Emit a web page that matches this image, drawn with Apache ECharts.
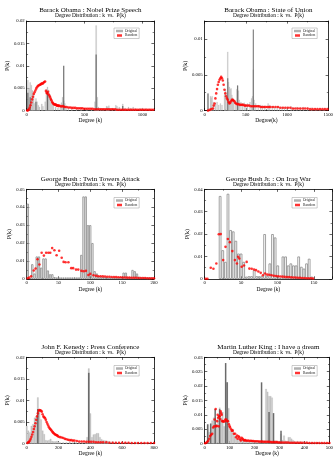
<!DOCTYPE html>
<html><head><meta charset="utf-8">
<script src="https://cdn.jsdelivr.net/npm/echarts@6/dist/echarts.min.js"></script>
<style>html,body{margin:0;padding:0;background:#fff}#c{width:336px;height:458px}</style>
</head><body><div id="c"></div>
<script>
// ---------- DATA ----------
const titles = ['Barack Obama : Nobel Prize Speech','Barack Obama : State of Union','George Bush : Twin Towers Attack','George Bush Jr. : On Iraq War','John F. Kenedy : Press Conference','Martin Luther King : I have a dream'];
const subtitle = 'Degree Distribution : k  vs.  P(k)';
const xNames = ['Degree (k)','Degree(k)','Degree (k)','Degree (k)','Degree (k)','Degree (k)'];
const yName = 'P(k)';
const legendNames = ['Original','Random'];
const xMaxs = [1100,1500,200,175,800,500];
const xIntervals = [500,500,50,50,200,100];
const yMaxs = [0.02,0.0125,0.05,0.04,0.02,0.03];
const yIntervals = [0.005,0.005,0.01,0.01,0.005,0.005];

const nobelOriginal = [[10,0.0068],[20,0.0050],[30,0.0063],[40,0.0057],[50,0.0045],[60,0.0038],[70,0.0016],[80,0.0027],[90,0.0020],[100,0.0012],[110,0.0008],[130,0.0015],[140,0.0010],[160,0.0020],[170,0.0048],[180,0.0053],[190,0.0046],[200,0.0036],[210,0.0028],[220,0.0020],[230,0.0012],[250,0.0008],[270,0.0006],[290,0.0010],[300,0.0018],[310,0.0030],[320,0.0022],[330,0.0016],[340,0.0010],[360,0.0006],[390,0.0004],[430,0.0004],[470,0.0003],[520,0.0004],[560,0.0004],[590,0.0020],[600,0.0190],[610,0.0030],[620,0.0008],[640,0.0006],[660,0.0005],[690,0.0010],[700,0.0009],[710,0.0011],[740,0.0006],[770,0.0012],[780,0.0010],[800,0.0008],[830,0.0015],[850,0.0006],[880,0.0008],[900,0.0006],[920,0.0008],[940,0.0005],[980,0.0005],[1000,0.0006],[1030,0.0005],[1060,0.0004],[1090,0.0003]];
const nobelDark = [[10,0.0040],[30,0.0030],[80,0.0020],[180,0.0042],[320,0.0100],[600,0.0125],[830,0.0010]];
const nobelRandom = [[5,0.0000],[12,0.0001],[19,0.0003],[26,0.0007],[33,0.0012],[40,0.0018],[47,0.0025],[54,0.0031],[61,0.0037],[68,0.0041],[75,0.0045],[82,0.0049],[89,0.0052],[96,0.0055],[103,0.0056],[110,0.0057],[117,0.0058],[124,0.0059],[131,0.0061],[138,0.0060],[145,0.0062],[152,0.0064],[159,0.0065],[166,0.0044],[172,0.0040],[178,0.0038],[184,0.0042],[190,0.0036],[196,0.0033],[202,0.0030],[208,0.0026],[214,0.0023],[220,0.0019],[226,0.0017],[232,0.0015],[238,0.0014],[244,0.0013],[250,0.0014],[256,0.0012],[262,0.0011],[268,0.0012],[274,0.0010],[280,0.0011],[290,0.0010],[300,0.0009],[310,0.0010],[320,0.0009],[330,0.0008],[345,0.0008],[360,0.0007],[375,0.0007],[390,0.0006],[405,0.0006],[420,0.0006],[435,0.0005],[450,0.0005],[465,0.0005],[480,0.0005],[495,0.0004],[510,0.0004],[525,0.0004],[540,0.0004],[555,0.0004],[570,0.0004],[585,0.0003],[600,0.0003],[615,0.0003],[630,0.0003],[645,0.0003],[660,0.0003],[675,0.0003],[690,0.0003],[705,0.0003],[720,0.0003],[735,0.0003],[750,0.0003],[765,0.0003],[780,0.0002],[795,0.0002],[810,0.0002],[825,0.0002],[840,0.0002],[855,0.0002],[870,0.0002],[885,0.0002],[900,0.0002],[915,0.0002],[930,0.0002],[945,0.0002],[960,0.0002],[975,0.0002],[990,0.0002],[1005,0.0002],[1020,0.0002],[1035,0.0002],[1050,0.0002],[1065,0.0002],[1080,0.0002],[1095,0.0002]];

const unionOriginal = [[40,0.0024],[70,0.0020],[80,0.0018],[90,0.0020],[110,0.0012],[130,0.0010],[150,0.0012],[170,0.0008],[190,0.0010],[210,0.0008],[240,0.0022],[250,0.0030],[260,0.0025],[280,0.0082],[290,0.0040],[300,0.0033],[310,0.0030],[320,0.0031],[330,0.0022],[340,0.0018],[350,0.0016],[370,0.0014],[390,0.0030],[400,0.0035],[410,0.0028],[420,0.0015],[440,0.0012],[460,0.0010],[480,0.0011],[500,0.0009],[520,0.0010],[550,0.0012],[570,0.0017],[580,0.0020],[590,0.0057],[600,0.0015],[620,0.0010],[650,0.0008],[680,0.0008],[700,0.0007],[730,0.0007],[770,0.0010],[790,0.0008],[820,0.0006],[850,0.0005],[880,0.0006],[910,0.0005],[940,0.0005],[970,0.0004],[1000,0.0005],[1050,0.0006],[1080,0.0004],[1120,0.0005],[1160,0.0004],[1200,0.0005],[1250,0.0004],[1300,0.0004],[1350,0.0003],[1400,0.0003],[1450,0.0003]];
const unionDark = [[40,0.0024],[280,0.0045],[400,0.0035],[590,0.0113]];
const unionRandom = [[40,0.0000],[60,0.0001],[80,0.0002],[100,0.0003],[110,0.0007],[120,0.0010],[130,0.0017],[140,0.0024],[150,0.0030],[160,0.0036],[170,0.0040],[180,0.0043],[190,0.0045],[200,0.0047],[210,0.0045],[220,0.0042],[230,0.0036],[240,0.0029],[250,0.0024],[260,0.0020],[270,0.0017],[280,0.0015],[290,0.0012],[300,0.0010],[310,0.0011],[320,0.0013],[330,0.0015],[340,0.0015],[350,0.0014],[360,0.0013],[370,0.0011],[380,0.0010],[395,0.0009],[410,0.0009],[425,0.0008],[440,0.0008],[455,0.0008],[470,0.0008],[485,0.0007],[500,0.0007],[520,0.0007],[540,0.0007],[560,0.0006],[580,0.0006],[600,0.0006],[620,0.0006],[640,0.0006],[660,0.0006],[680,0.0005],[700,0.0005],[720,0.0005],[740,0.0005],[760,0.0005],[780,0.0005],[800,0.0005],[830,0.0005],[860,0.0005],[890,0.0005],[920,0.0004],[950,0.0004],[980,0.0004],[1010,0.0004],[1040,0.0004],[1070,0.0003],[1100,0.0003],[1130,0.0003],[1160,0.0003],[1190,0.0003],[1220,0.0003],[1250,0.0003],[1280,0.0002],[1310,0.0002],[1340,0.0002],[1370,0.0002],[1400,0.0002],[1430,0.0002],[1460,0.0002],[1490,0.0002]];

const twinOriginal = [[1.75,0.042],[5.25,0.0005],[8.75,0.0082],[12.25,0.003],[15.75,0.0125],[19.25,0.0125],[22.75,0.0063],[26.25,0.0114],[29.75,0.0114],[33.25,0.0047],[36.75,0.0026],[40.25,0.0026],[43.75,0.001],[47.25,0.0008],[50.75,0.0008],[54.25,0.0008],[57.75,0.0008],[61.25,0.0008],[64.75,0.0008],[68.25,0.0008],[71.75,0.0008],[75.25,0.0008],[78.75,0.0008],[82.25,0.0008],[85.75,0.0134],[89.25,0.046],[92.75,0.046],[96.25,0.030],[99.75,0.030],[103.25,0.020],[106.75,0.0043],[110.25,0.003],[113.75,0.0015],[117.25,0.0012],[120.75,0.001],[124.25,0.001],[127.75,0.0008],[131.25,0.0008],[134.75,0.0008],[138.25,0.0008],[141.75,0.0008],[145.25,0.0008],[148.75,0.001],[152.25,0.0035],[155.75,0.0035],[159.25,0.001],[162.75,0.001],[166.25,0.005],[169.75,0.0043],[173.25,0.003],[176.75,0.0012],[180.25,0.0008],[183.75,0.0008],[187.25,0.0008],[190.75,0.0008],[194.25,0.0008],[197.75,0.0008]];
const twinRandom = [[1.6,0.0004],[4,0.0007],[7,0.0015],[11,0.0047],[14,0.0058],[17,0.011],[20,0.008],[23.5,0.0146],[27,0.013],[30.5,0.0146],[34,0.0146],[37,0.0146],[40,0.0172],[43.5,0.016],[47,0.0132],[51,0.0157],[55,0.0118],[58,0.0095],[61,0.0093],[65.5,0.0093],[70,0.006],[73,0.006],[77.5,0.0052],[81,0.0052],[86,0.0045],[89.5,0.0043],[93,0.0045],[97,0.0022],[100,0.0028],[105,0.002],[109,0.0017],[112.5,0.0015],[116,0.0015],[119.5,0.0014],[123,0.0013],[126.5,0.0012],[130,0.0012],[133.5,0.0011],[137,0.0010],[140.5,0.0010],[144,0.0009],[147.5,0.0009],[151,0.0008],[154.5,0.0008],[158,0.0007],[161.5,0.0007],[165,0.0006],[168.5,0.0006],[172,0.0006],[175.5,0.0005],[179,0.0005],[182.5,0.0005],[186,0.0005],[189.5,0.0004],[193,0.0004],[196.5,0.0004],[200,0.0004]];

const iraqOriginal = [[21.2,0.037],[24.8,0.0128],[28.4,0.0076],[32,0.038],[35.6,0.0218],[39.2,0.0212],[42.8,0.017],[46.4,0.0113],[50,0.0113],[53.6,0.0076],[57.2,0.001],[60.8,0.0012],[64.4,0.0012],[68,0.0039],[71.6,0.0012],[75.2,0.0012],[78.8,0.0012],[82.4,0.020],[86,0.0012],[89.6,0.0069],[93.2,0.020],[96.8,0.0185],[100.4,0.006],[104,0.0003],[107.6,0.010],[111.2,0.010],[114.8,0.006],[118.4,0.0069],[122,0.006],[125.6,0.006],[129.2,0.010],[132.8,0.0054],[136.4,0.0046],[140,0.0069],[143.6,0.009],[147.2,0.001]];
const iraqRandom = [[1.4,0.0001],[3.7,0.0001],[8.3,0.005],[12,0.0045],[16,0.0069],[19.4,0.0199],[22,0.02],[25.4,0.0084],[28.6,0.0143],[31.8,0.0178],[34.6,0.0164],[38,0.0124],[41.5,0.0084],[44.3,0.0069],[46,0.0099],[47.5,0.0091],[50.8,0.0054],[54,0.006],[57.7,0.0076],[61.4,0.0046],[64.6,0.0045],[67.8,0.0042],[70.6,0.0039],[73.8,0.0033],[77,0.0027],[80,0.0016],[83,0.0024],[86,0.0019],[89,0.0018],[92,0.0016],[95,0.0014],[98,0.0013],[101,0.0012],[104,0.0011],[107,0.0010],[110,0.0009],[113,0.0008],[116,0.0008],[119,0.0007],[122,0.0006],[125,0.0006],[128,0.0005],[131,0.0005],[134,0.0004],[137,0.0004],[140,0.0003],[143,0.0003],[146,0.0003],[149,0.0002]];

const kennedyOriginal = [[0,0.0041],[10,0.0030],[20,0.0026],[30,0.0041],[40,0.0045],[50,0.0060],[60,0.0063],[70,0.0107],[80,0.0075],[90,0.0056],[100,0.0030],[110,0.0022],[120,0.0008],[130,0.0007],[140,0.0008],[150,0.0011],[160,0.0006],[170,0.0005],[180,0.0005],[190,0.0006],[200,0.0004],[210,0.0003],[230,0.0003],[250,0.0003],[270,0.0004],[290,0.0003],[310,0.0003],[330,0.0004],[350,0.0003],[370,0.0004],[380,0.0015],[390,0.0174],[400,0.0070],[410,0.0015],[420,0.0021],[430,0.0022],[440,0.0024],[450,0.0024],[460,0.0015],[470,0.0010],[480,0.0008],[490,0.0007],[500,0.0007],[510,0.0006],[520,0.0005],[540,0.0005],[560,0.0004],[580,0.0003],[600,0.0003],[620,0.0004],[640,0.0003],[660,0.0003],[690,0.0003],[720,0.0002],[750,0.0002],[780,0.0002]];
const kennedyDark = [[70,0.0080],[390,0.0164]];
const kennedyRandom = [[5,0.00015],[10,0.0003],[15,0.0004],[20,0.0007],[25,0.0011],[30,0.0016],[35,0.0021],[40,0.0027],[45,0.0034],[50,0.0040],[55,0.0047],[60,0.0055],[65,0.0063],[70,0.0070],[75,0.0076],[80,0.0078],[85,0.0077],[90,0.0076],[95,0.0074],[100,0.0068],[105,0.0063],[110,0.0061],[115,0.0059],[120,0.0055],[125,0.0050],[130,0.0046],[135,0.0042],[140,0.0038],[145,0.0035],[150,0.0033],[155,0.0031],[160,0.0028],[165,0.0026],[170,0.0024],[175,0.0022],[180,0.0021],[185,0.0020],[190,0.0019],[195,0.0018],[200,0.0016],[210,0.0015],[220,0.0014],[230,0.0013],[240,0.0011],[250,0.0010],[260,0.0009],[270,0.0008],[280,0.0008],[290,0.0007],[300,0.0007],[315,0.0006],[330,0.0005],[345,0.0005],[360,0.0005],[375,0.0004],[390,0.0004],[405,0.0004],[420,0.0004],[435,0.0003],[450,0.0003],[465,0.0003],[480,0.0003],[500,0.0003],[520,0.0002],[540,0.0002],[560,0.0002],[580,0.0002],[600,0.0002],[620,0.0002],[640,0.0002],[660,0.00015],[680,0.00015],[700,0.00015],[720,0.00015],[740,0.00015],[760,0.00015],[780,0.00015],[800,0.00015]];

const dreamOriginal = [[12,0.0067],[18,0.0040],[24,0.0067],[30,0.0080],[36,0.0090],[42,0.0090],[48,0.0067],[54,0.0093],[60,0.0125],[66,0.0090],[72,0.0110],[78,0.0060],[84,0.0060],[90,0.0213],[96,0.0123],[102,0.0045],[108,0.0045],[114,0.0050],[120,0.0028],[126,0.0028],[132,0.0017],[138,0.0017],[144,0.0017],[150,0.0017],[156,0.0012],[162,0.0009],[168,0.0009],[174,0.0009],[180,0.0009],[186,0.0009],[192,0.0009],[198,0.0009],[204,0.0009],[210,0.0009],[216,0.0009],[222,0.0009],[228,0.0010],[234,0.0010],[240,0.0010],[246,0.0190],[252,0.0180],[258,0.0165],[264,0.0165],[270,0.0160],[276,0.0010],[282,0.0010],[288,0.0010],[294,0.0009],[300,0.0009],[306,0.0034],[312,0.0012],[318,0.0028],[324,0.0010],[330,0.0009],[336,0.0022],[342,0.0022],[348,0.0017],[354,0.0012],[360,0.0009],[372,0.0009],[384,0.0008],[396,0.0007],[408,0.0007],[420,0.0006],[432,0.0006],[444,0.0005],[456,0.0005],[468,0.0005],[480,0.0005],[492,0.0004]];
const dreamDark = [[12,0.0067],[24,0.0070],[42,0.0120],[60,0.0120],[84,0.0280],[90,0.0213],[228,0.0213],[258,0.0110],[276,0.0106],[306,0.0045]];
const dreamRandom = [[2,0.0001],[6,0.0003],[10,0.0006],[14,0.0010],[18,0.0017],[22,0.0026],[26,0.0031],[30,0.0034],[34,0.0056],[38,0.0060],[40,0.0084],[44,0.0120],[46,0.0060],[48,0.0062],[50,0.0078],[52,0.0100],[54,0.0090],[56,0.0060],[58,0.0095],[60,0.0095],[62,0.0085],[64,0.0112],[66,0.0105],[68,0.0100],[70,0.0078],[73,0.0078],[76,0.0076],[80,0.0078],[83,0.0084],[86,0.0084],[90,0.0078],[93,0.0078],[97,0.0067],[100,0.0060],[102,0.0056],[106,0.0050],[109,0.0045],[112,0.0045],[117,0.0034],[122,0.0034],[126,0.0022],[130,0.0028],[132,0.0017],[136,0.0025],[139,0.0022],[142,0.0015],[145,0.0011],[148,0.0020],[152,0.0017],[155,0.0013],[158,0.0011],[162,0.0012],[165,0.0011],[170,0.0010],[175,0.0011],[180,0.0009],[185,0.0010],[190,0.0009],[195,0.0009],[200,0.0008],[206,0.0008],[212,0.0008],[218,0.0007],[224,0.0007],[230,0.0007],[236,0.0006],[242,0.0006],[248,0.0006],[254,0.0006],[260,0.0006],[266,0.0005],[272,0.0005],[278,0.0005],[284,0.0005],[290,0.0005],[296,0.0004],[302,0.0004],[310,0.0004],[318,0.0004],[326,0.0004],[334,0.0004],[342,0.0003],[350,0.0003],[358,0.0003],[366,0.0003],[374,0.0003],[382,0.0003],[390,0.0003],[400,0.0003],[410,0.0003],[420,0.0002],[430,0.0002],[440,0.0002],[450,0.0002],[460,0.0002],[470,0.0002],[480,0.0002],[490,0.0002],[500,0.0002]];

const originals = [nobelOriginal, unionOriginal, twinOriginal, iraqOriginal, kennedyOriginal, dreamOriginal];
const darks = [nobelDark, unionDark, null, null, kennedyDark, dreamDark];
const randoms = [nobelRandom, unionRandom, twinRandom, iraqRandom, kennedyRandom, dreamRandom];

// ---------- LAYOUT ----------
const FONT = '"Liberation Serif", "DejaVu Serif", serif';
const cols = [26.7, 204.7];
const rows = [21, 189.3, 357.3];
const titleY = [10, 179, 347];
const subY = [15.7, 184.7, 352.3];
const GW = 127.3, GH = 89.6;
const legendPos = [[114,28],[292,28],[114,197.5],[292,197.5],[114,365.5],[292,365.5]];
const plain = v => String(+v.toFixed(6));

const grid = [], xAxis = [], yAxis = [], series = [], legend = [], graphic = [];
for (let i = 0; i < 6; i++) {
  const L = cols[i % 2], T = rows[Math.floor(i / 2)];
  grid.push({left: L, top: T, width: GW, height: GH, show: false});
  const tick = {show: true, inside: true, length: 2.6, lineStyle: {color: '#000', width: 0.6}};
  const minor = {show: true, splitNumber: 2, length: 1.4, lineStyle: {color: '#000', width: 0.5}};
  const line = {show: true, onZero: false, lineStyle: {color: '#000', width: 0.8}};
  const xBase = {type: 'value', gridIndex: i, min: 0, max: xMaxs[i], interval: xIntervals[i],
    axisTick: tick, minorTick: minor, axisLine: line, splitLine: {show: false}};
  xAxis.push(Object.assign({}, xBase, {position: 'bottom', name: xNames[i], nameLocation: 'middle', nameGap: 6.5,
    nameTextStyle: {fontFamily: FONT, fontSize: 5.5, color: '#000'},
    axisLabel: {fontFamily: FONT, fontSize: 4.8, color: '#000', margin: 1.5, formatter: plain,
      showMaxLabel: xMaxs[i] % xIntervals[i] === 0}}));
  xAxis.push(Object.assign({}, xBase, {position: 'top', axisLabel: {show: false}}));
  const yBase = {type: 'value', gridIndex: i, min: 0, max: yMaxs[i], interval: yIntervals[i],
    axisTick: tick, minorTick: minor, axisLine: line, splitLine: {show: false}};
  yAxis.push(Object.assign({}, yBase, {position: 'left', name: yName, nameLocation: 'middle', nameGap: 14, nameRotate: 90,
    nameTextStyle: {fontFamily: FONT, fontSize: 6, color: '#000'},
    axisLabel: {fontFamily: FONT, fontSize: 4.8, color: '#000', margin: 2, formatter: plain,
      showMaxLabel: Math.abs(yMaxs[i] / yIntervals[i] - Math.round(yMaxs[i] / yIntervals[i])) < 1e-9}}));
  yAxis.push(Object.assign({}, yBase, {position: 'right', axisLabel: {show: false}}));

  const outline = (darks[i] === null);
  series.push({type: 'bar', name: 'Original', xAxisIndex: 2 * i, yAxisIndex: 2 * i, data: originals[i],
    barWidth: '100%', barGap: '-100%', silent: true,
    itemStyle: outline ? {color: 'rgba(255,255,255,0)', borderColor: '#8a8a8a', borderWidth: 0.8}
                       : {color: '#c6c6c6', borderColor: '#b0b0b0', borderWidth: 0.2}});
  if (darks[i]) {
    series.push({type: 'bar', name: 'OriginalDark', xAxisIndex: 2 * i, yAxisIndex: 2 * i, data: darks[i],
      barWidth: '100%', barGap: '-100%', silent: true, itemStyle: {color: '#6a6a6a'}});
  }
  series.push({type: 'scatter', name: 'Random', xAxisIndex: 2 * i, yAxisIndex: 2 * i, data: randoms[i],
    symbol: 'circle', symbolSize: 2.6, silent: true, itemStyle: {color: '#ff0000'}});

  legend.push({left: legendPos[i][0], top: legendPos[i][1], orient: 'vertical', selectedMode: false,
    padding: [1, 2], itemGap: 0.5, itemWidth: 5, itemHeight: 2.5,
    borderColor: '#999', borderWidth: 0.5, backgroundColor: '#fff',
    textStyle: {fontFamily: FONT, fontSize: 3.6, color: '#222', padding: [0, 0, 0, -2]},
    data: [{name: legendNames[0], icon: 'path://M0,4H20V6H0Z', itemStyle: {color: '#888'}},
           {name: legendNames[1], icon: 'rect', itemStyle: {color: '#ff0000'}}]});

  const cx = L + GW / 2;
  graphic.push({type: 'text', x: cx, y: titleY[Math.floor(i / 2)], silent: true,
    style: {text: titles[i], fill: '#000', font: '7px ' + FONT, textAlign: 'center', textVerticalAlign: 'middle'}});
  graphic.push({type: 'text', x: cx, y: subY[Math.floor(i / 2)], silent: true,
    style: {text: subtitle, fill: '#000', font: '5.4px ' + FONT, textAlign: 'center', textVerticalAlign: 'middle'}});
}

const chart = echarts.init(document.getElementById('c'), null, {renderer: 'canvas'});
chart.setOption({animation: false, backgroundColor: '#fff', grid, xAxis, yAxis, series, legend, graphic});
</script></body></html>
